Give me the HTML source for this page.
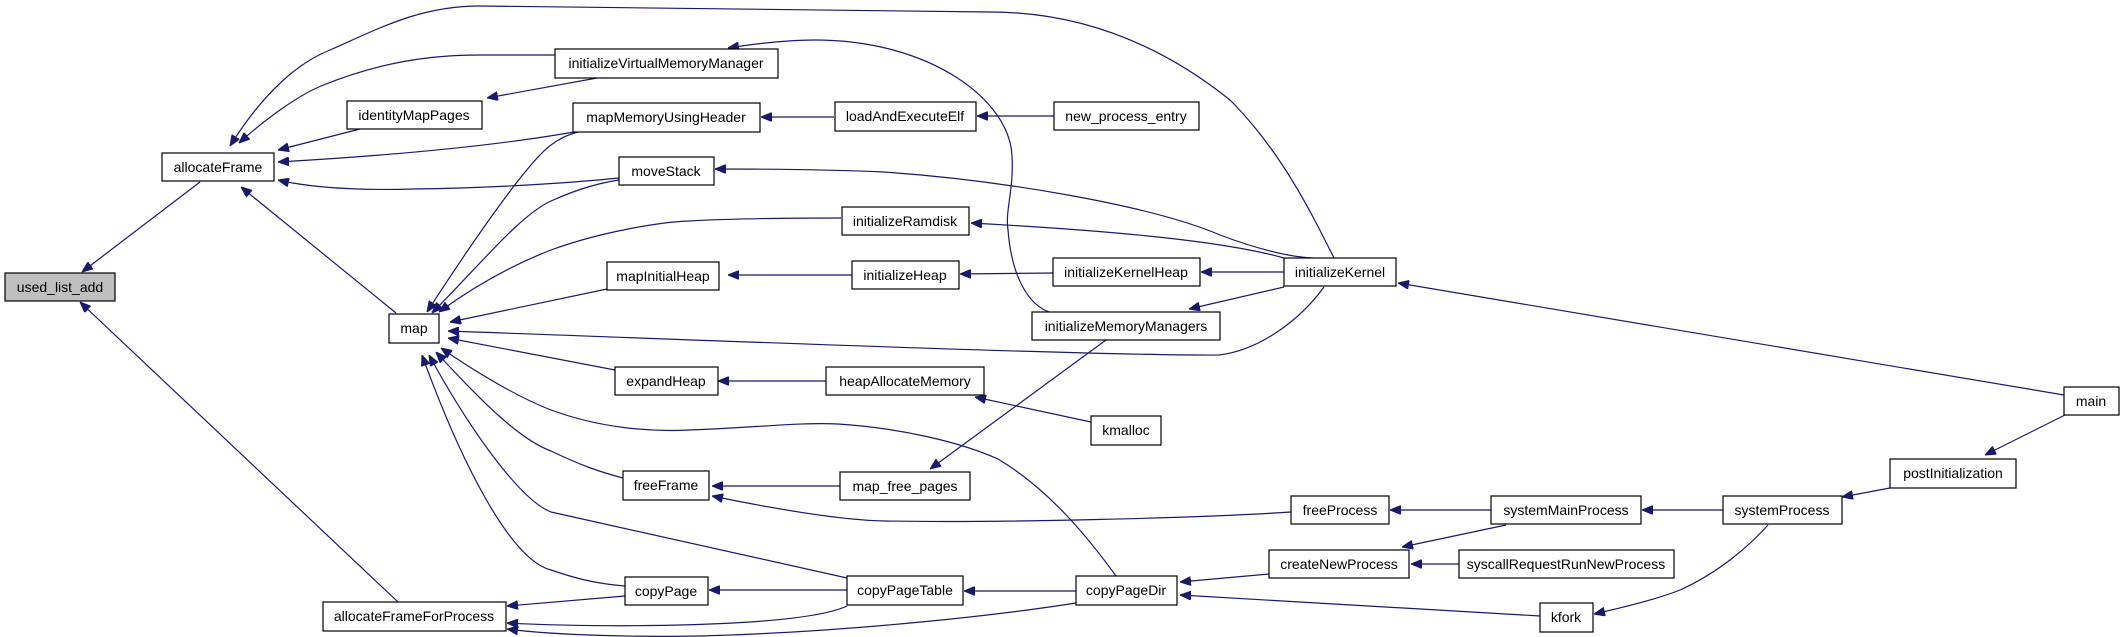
<!DOCTYPE html>
<html><head><meta charset="utf-8"><style>
html,body{margin:0;padding:0;background:#fff;}
svg{display:block;}
text{font-family:"Liberation Sans",sans-serif;font-size:14px;fill:#000;}
.e{fill:none;stroke:#191970;stroke-width:1.2;marker-start:url(#a);}
.b{fill:#fff;stroke:#000;stroke-width:1.2;}
</style></head><body>
<svg width="2125" height="637" viewBox="0 0 2125 637" xmlns="http://www.w3.org/2000/svg">
<defs><marker id="a" markerWidth="11" markerHeight="9" refX="11" refY="4.5" orient="auto-start-reverse" markerUnits="userSpaceOnUse"><path d="M0,0 L11,4.5 L0,9z" fill="#191970" stroke="#191970"/></marker></defs>
<g>
<path class="e" d="M82,272 L200,182"/>
<path class="e" d="M80,302 L398,602"/>
<path class="e" d="M230,146 C265,90 300,62 330,50 C380,28 420,6 480,6 L990,12 C1100,12 1180,60 1230,100 C1280,150 1310,210 1334,258"/>
<path class="e" d="M239,143 C270,115 300,95 321,86 C380,62 430,55 480,55 L555,55"/>
<path class="e" d="M278,150 L360,129"/>
<path class="e" d="M278,162 C400,155 500,145 574,132"/>
<path class="e" d="M278,180 C320,190 380,190 413,189 C500,188 580,182 619,178"/>
<path class="e" d="M241,187 L396,313"/>
<path class="e" d="M487,98 L597,78"/>
<path class="e" d="M728,48 C760,43 790,40 815,40 C930,40 1010,100 1012,156 C1014,190 1005,210 1008,230 C1012,280 1030,305 1049,312"/>
<path class="e" d="M761,117 L834,117"/>
<path class="e" d="M977,116 L1054,116"/>
<path class="e" d="M715,169 C780,169 840,170 884,172 C1000,180 1150,205 1220,235 C1260,250 1290,257 1313,258"/>
<path class="e" d="M971,223 C1100,230 1220,240 1284,258"/>
<path class="e" d="M960,274 L1053,273"/>
<path class="e" d="M1201,272 L1284,272"/>
<path class="e" d="M1189,309 L1284,287"/>
<path class="e" d="M1398,283 L2064,395"/>
<path class="e" d="M728,275 L852,275"/>
<path class="e" d="M427,312 C480,230 530,160 551,145 C560,138 570,134 578,132"/>
<path class="e" d="M432,313 C480,265 520,215 551,201 C580,188 600,183 619,180"/>
<path class="e" d="M439,312 C480,282 520,262 551,250 C600,232 660,222 689,221 C740,218 800,218 841,218"/>
<path class="e" d="M450,322 L607,289"/>
<path class="e" d="M448,331 C700,340 1100,356 1219,355 C1260,350 1300,320 1324,287"/>
<path class="e" d="M448,338 L615,370"/>
<path class="e" d="M718,381 L826,381"/>
<path class="e" d="M975,397 L1091,422"/>
<path class="e" d="M441,348 C480,375 520,398 551,410 C600,428 650,432 689,430 C750,428 800,422 838,424 C900,428 960,442 998,459 C1050,490 1090,540 1116,576"/>
<path class="e" d="M436,352 C480,400 520,440 551,451 C580,465 600,472 623,478"/>
<path class="e" d="M429,355 C470,430 520,500 551,512 L847,578"/>
<path class="e" d="M422,355 C460,460 510,560 551,570 C580,580 600,584 625,586"/>
<path class="e" d="M712,486 L840,486"/>
<path class="e" d="M712,496 C780,510 840,520 884,521 C1000,523 1200,518 1291,512"/>
<path class="e" d="M930,469 L1106,340"/>
<path class="e" d="M709,590 L847,590"/>
<path class="e" d="M507,606 L625,596"/>
<path class="e" d="M507,623 C600,628 800,628 847,606"/>
<path class="e" d="M507,629 C560,636 650,637 700,636 C850,632 1000,615 1076,603"/>
<path class="e" d="M964,591 L1076,591"/>
<path class="e" d="M1180,582 L1269,574"/>
<path class="e" d="M1180,595 L1540,616"/>
<path class="e" d="M1390,510 L1491,510"/>
<path class="e" d="M1402,547 L1506,525"/>
<path class="e" d="M1411,564 L1459,564"/>
<path class="e" d="M1642,510 L1723,510"/>
<path class="e" d="M1842,497 L1890,488"/>
<path class="e" d="M1985,455 L2065,415"/>
<path class="e" d="M1594,614 C1630,606 1660,598 1680,590 C1720,572 1750,545 1768,525"/>
</g>
<g>
<rect x="5" y="273" width="110" height="28" fill="#bfbfbf" stroke="#000" stroke-width="1.2"/><text x="60" y="292" text-anchor="middle">used_list_add</text>
<rect class="b" x="162" y="153" width="112" height="28"/><text x="218" y="172" text-anchor="middle">allocateFrame</text>
<rect class="b" x="347" y="101" width="135" height="28"/><text x="414" y="120" text-anchor="middle">identityMapPages</text>
<rect class="b" x="555" y="49" width="223" height="29"/><text x="666" y="68" text-anchor="middle">initializeVirtualMemoryManager</text>
<rect class="b" x="573" y="103" width="187" height="29"/><text x="666" y="122" text-anchor="middle">mapMemoryUsingHeader</text>
<rect class="b" x="619" y="157" width="95" height="28"/><text x="666" y="176" text-anchor="middle">moveStack</text>
<rect class="b" x="842" y="207" width="127" height="28"/><text x="905" y="226" text-anchor="middle">initializeRamdisk</text>
<rect class="b" x="607" y="262" width="112" height="28"/><text x="663" y="281" text-anchor="middle">mapInitialHeap</text>
<rect class="b" x="389" y="314" width="50" height="29"/><text x="414" y="333" text-anchor="middle">map</text>
<rect class="b" x="615" y="367" width="103" height="28"/><text x="666" y="386" text-anchor="middle">expandHeap</text>
<rect class="b" x="623" y="471" width="86" height="29"/><text x="666" y="490" text-anchor="middle">freeFrame</text>
<rect class="b" x="625" y="577" width="83" height="28"/><text x="666" y="596" text-anchor="middle">copyPage</text>
<rect class="b" x="323" y="602" width="183" height="29"/><text x="414" y="621" text-anchor="middle">allocateFrameForProcess</text>
<rect class="b" x="835" y="102" width="141" height="29"/><text x="905" y="121" text-anchor="middle">loadAndExecuteElf</text>
<rect class="b" x="1054" y="102" width="145" height="28"/><text x="1126" y="121" text-anchor="middle">new_process_entry</text>
<rect class="b" x="852" y="261" width="107" height="28"/><text x="905" y="280" text-anchor="middle">initializeHeap</text>
<rect class="b" x="1053" y="258" width="147" height="28"/><text x="1126" y="277" text-anchor="middle">initializeKernelHeap</text>
<rect class="b" x="1284" y="258" width="112" height="28"/><text x="1340" y="277" text-anchor="middle">initializeKernel</text>
<rect class="b" x="1032" y="312" width="188" height="28"/><text x="1126" y="331" text-anchor="middle">initializeMemoryManagers</text>
<rect class="b" x="826" y="367" width="158" height="28"/><text x="905" y="386" text-anchor="middle">heapAllocateMemory</text>
<rect class="b" x="1091" y="416" width="70" height="29"/><text x="1126" y="435" text-anchor="middle">kmalloc</text>
<rect class="b" x="840" y="472" width="130" height="28"/><text x="905" y="491" text-anchor="middle">map_free_pages</text>
<rect class="b" x="1291" y="496" width="98" height="28"/><text x="1340" y="515" text-anchor="middle">freeProcess</text>
<rect class="b" x="847" y="576" width="116" height="29"/><text x="905" y="595" text-anchor="middle">copyPageTable</text>
<rect class="b" x="1076" y="576" width="101" height="29"/><text x="1126" y="595" text-anchor="middle">copyPageDir</text>
<rect class="b" x="1269" y="550" width="140" height="28"/><text x="1339" y="569" text-anchor="middle">createNewProcess</text>
<rect class="b" x="2064" y="387" width="55" height="28"/><text x="2091" y="406" text-anchor="middle">main</text>
<rect class="b" x="1890" y="459" width="126" height="29"/><text x="1953" y="478" text-anchor="middle">postInitialization</text>
<rect class="b" x="1491" y="496" width="150" height="28"/><text x="1566" y="515" text-anchor="middle">systemMainProcess</text>
<rect class="b" x="1723" y="496" width="119" height="28"/><text x="1782" y="515" text-anchor="middle">systemProcess</text>
<rect class="b" x="1459" y="550" width="215" height="28"/><text x="1566" y="569" text-anchor="middle">syscallRequestRunNewProcess</text>
<rect class="b" x="1540" y="603" width="53" height="29"/><text x="1566" y="622" text-anchor="middle">kfork</text>
</g>
</svg>
</body></html>
